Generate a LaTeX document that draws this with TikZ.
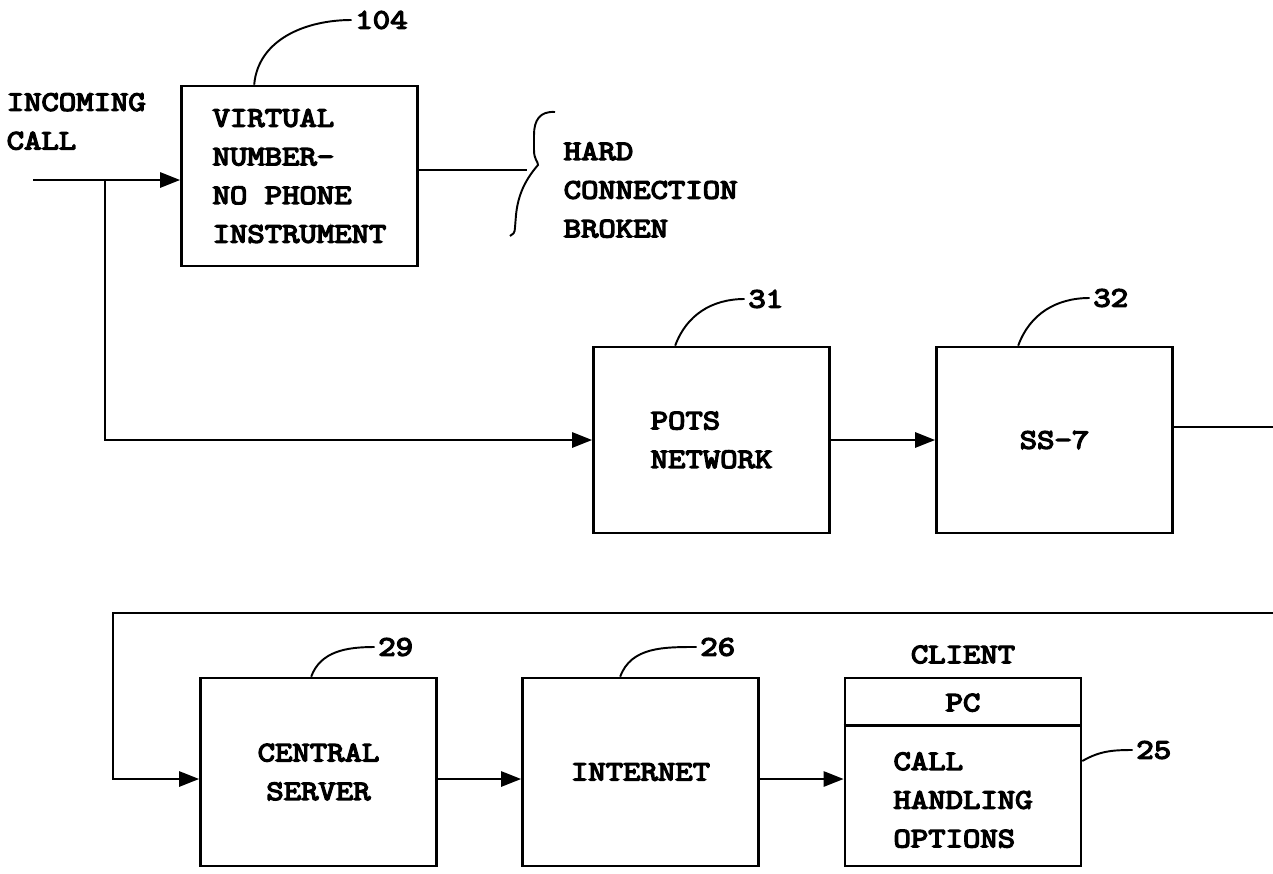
\documentclass[tikz,border=0pt]{standalone}
\usepackage{fontspec}
\newfontfamily\patfont{Latin Modern Mono}[FakeStretch=1.2,FakeBold=5]
\usetikzlibrary{arrows.meta, positioning, calc}

\begin{document}
\begin{tikzpicture}[
  every node/.style={font=\patfont\fontsize{16}{22}\selectfont},
  bx/.style={draw, line width=1.5pt, minimum width=4.72cm, minimum height=3.72cm, inner sep=0pt},
  num/.style={anchor=west, inner sep=2pt},
  a/.style={-{Triangle[length=0.4cm,width=0.3cm]}, line width=1.5pt},
  ln/.style={line width=1.5pt},
  ld/.style={line width=1.1pt}]
\useasboundingbox (0,0) rectangle (25.46,-17.46);
\node[bx, minimum height=3.6cm, align=left] (vn) at (5.99,-3.52) {VIRTUAL\\NUMBER-\\NO PHONE\\INSTRUMENT};
\node[anchor=west, align=left] (inc) at (0.01,-2.43) {INCOMING\\CALL};
\node[anchor=west, align=left] (hcb) at (11.15,-3.8) {HARD\\CONNECTION\\BROKEN};
\node[bx, align=left] (pots) at (14.23,-8.8) {POTS\\NETWORK};
\node[bx] (ss) at (21.09,-8.8) {SS-7};
\node[bx, minimum height=3.76cm, align=center] (cs) at (6.37,-15.44) {CENTRAL\\SERVER};
\node[bx, minimum height=3.76cm] (net) at (12.81,-15.44) {INTERNET};
\node[bx, minimum height=3.76cm] (cl) at (19.26,-15.44) {};
\node (pc) at ($(cl.north)+(0,-0.52)$) {PC};
\node[align=left] (opt) at ($(cl.center)+(0,-0.56)$) {CALL\\HANDLING\\OPTIONS};
\node[above=0.14cm of cl] (cli) {CLIENT};
\node[num] (n104) at (7.03,-0.4) {104};
\node[num] (n31) at (14.89,-5.98) {31};
\node[num] (n32) at (21.79,-5.96) {32};
\node[num] (n29) at (7.49,-12.94) {29};
\node[num] (n26) at (13.93,-12.94) {26};
\node[num] (n25) at (22.65,-15.0) {25};
\draw[ld] ([xshift=1.48cm]vn.north west) to[out=85,in=180] (n104.west);
\draw[ld] ([xshift=1.66cm]pots.north west) to[out=70,in=180] (n31.west);
\draw[ld] ([xshift=1.66cm]ss.north west) to[out=70,in=180] (n32.west);
\draw[ld] ([xshift=2.24cm]cs.north west) to[out=70,in=180] (n29.west);
\draw[ld] ([xshift=1.98cm]net.north west) to[out=70,in=180] (n26.west);
\draw[ld] ([yshift=0.22cm]cl.east) to[out=30,in=180] (n25.west);
\coordinate (src) at (0.66,-3.6);
\coordinate (br) at (2.1,-3.6);
\coordinate (hc) at (10.54,-3.4);
\coordinate (e1) at (25.46,-8.54);
\coordinate (e2) at (25.46,-12.26);
\coordinate (w2) at (2.26,-12.26);
\draw[a] (src) -- (src -| vn.west);
\draw[a] (br) |- (pots.west);
\draw[ln] (hc -| vn.east) -- (hc);
\draw[ld] (11.1,-2.24) .. controls (10.8,-2.22) and (10.68,-2.4) .. (10.68,-2.7) -- (10.68,-3.0)
  .. controls (10.68,-3.2) and (10.76,-3.22) .. (10.76,-3.3)
  .. controls (10.5,-3.6) and (10.36,-3.9) .. (10.32,-4.3) -- (10.3,-4.55)
  .. controls (10.3,-4.65) and (10.26,-4.7) .. (10.2,-4.72);
\draw[a] (pots) -- (ss);
\draw[ln] (e1 -| ss.east) -- (e1);
\draw[a] (e2) -- (w2) |- ([yshift=-0.14cm]cs.west);
\draw[a] ([yshift=-0.14cm]cs.east) -- ([yshift=-0.14cm]net.west);
\draw[a] ([yshift=-0.14cm]net.east) -- ([yshift=-0.14cm]cl.west);
\draw[ln] ($(cl.north west)+(0,-0.98)$) -- ($(cl.north east)+(0,-0.98)$);
\end{tikzpicture}
\end{document}
